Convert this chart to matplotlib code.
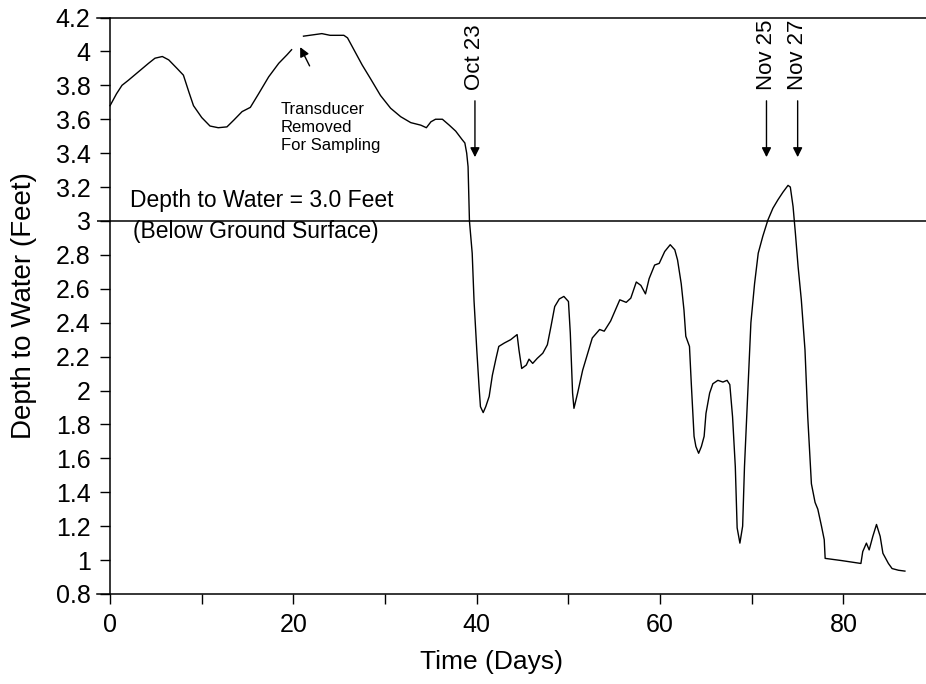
import numpy as np
import matplotlib.pyplot as plt

plt.rcParams['font.family'] = ['Liberation Sans', 'DejaVu Sans']

# Water level record (gap = transducer removed)
days = [0.0, 0.7, 1.3, 2.0, 3.1, 4.2, 4.9, 5.7, 6.4, 7.3, 8.0, 8.6, 9.1, 10.0,
        10.9, 11.8, 12.75, 13.5, 14.4, 15.3, 16.2, 17.3, 18.4, 19.3, 19.8,
        20.4,
        21.1, 22.4, 23.1, 24.0, 25.5, 25.9, 26.6, 27.5, 28.4, 29.5, 30.6, 31.7,
        32.8, 33.9, 34.5, 35.0, 35.5, 36.25, 37.0, 37.7, 38.4, 38.7, 38.9, 39.05,
        39.2, 39.5, 39.7, 40.0, 40.25, 40.4, 40.7, 40.98, 41.35, 41.7, 42.1,
        42.4, 43.0, 43.7, 44.4, 44.6, 44.9, 45.4, 45.7, 46.1, 46.6, 47.2, 47.7,
        48.1, 48.5, 49.0, 49.5, 50.0, 50.2, 50.45, 50.6, 51.0, 51.55, 52.1,
        52.6, 53.4, 53.9, 54.6, 55.2, 55.6, 56.3, 56.8, 57.4, 57.9, 58.4, 58.8,
        59.4, 59.9, 60.5, 61.1, 61.6, 61.9, 62.3, 62.6, 62.8, 63.2, 63.4, 63.7,
        63.9, 64.2, 64.5, 64.8, 65.0, 65.4, 65.75, 66.3, 66.85, 67.3, 67.6,
        67.9, 68.2, 68.4, 68.7, 69.0, 69.2, 69.6, 69.9, 70.3, 70.7, 71.2, 71.75,
        72.3, 72.85, 73.4, 73.95, 74.2, 74.5, 74.75, 75.05, 75.4, 75.8, 76.1,
        76.5, 76.9, 77.2, 77.6, 77.9, 78.0, 79.8, 81.9, 82.1, 82.5, 82.8, 83.2,
        83.6, 84.0, 84.3, 84.9, 85.3, 86.0, 86.7]
depth = [3.68, 3.75, 3.80, 3.83, 3.88, 3.93, 3.96, 3.97, 3.95, 3.90, 3.86, 3.76,
         3.68, 3.61, 3.56, 3.55, 3.555, 3.595, 3.645, 3.67, 3.75, 3.85, 3.93,
         3.98, 4.01,
         np.nan,
         4.09, 4.10, 4.105, 4.095, 4.095, 4.08, 4.01, 3.92, 3.84, 3.74, 3.665,
         3.615, 3.58, 3.565, 3.55, 3.585, 3.60, 3.60, 3.565, 3.53, 3.48, 3.46,
         3.40, 3.32, 3.0, 2.81, 2.53, 2.24, 2.02, 1.905, 1.87, 1.905, 1.965,
         2.09, 2.19, 2.26, 2.28, 2.30, 2.33, 2.24, 2.13, 2.15, 2.185, 2.16,
         2.19, 2.22, 2.27, 2.38, 2.495, 2.54, 2.555, 2.525, 2.34, 1.985, 1.895,
         1.985, 2.12, 2.22, 2.31, 2.36, 2.35, 2.41, 2.485, 2.535, 2.52, 2.545,
         2.64, 2.62, 2.57, 2.66, 2.74, 2.75, 2.82, 2.86, 2.83, 2.77, 2.63,
         2.475, 2.32, 2.26, 2.04, 1.73, 1.67, 1.63, 1.67, 1.73, 1.865, 1.985,
         2.04, 2.06, 2.05, 2.06, 2.035, 1.845, 1.55, 1.19, 1.10, 1.20, 1.55,
         2.04, 2.40, 2.63, 2.81, 2.91, 3.005, 3.075, 3.125, 3.17, 3.21, 3.20,
         3.085, 2.93, 2.73, 2.535, 2.24, 1.845, 1.45, 1.34, 1.30, 1.20, 1.12,
         1.01, 0.997, 0.98, 1.05, 1.10, 1.06, 1.14, 1.21, 1.14, 1.04, 0.98,
         0.95, 0.94, 0.935]

events = ['Oct 23', 'Nov 25', 'Nov 27']
event_days = [39.8, 71.6, 75.0]
threshold = 3.0

fig = plt.figure(figsize=(9.26, 6.84), dpi=100)
ax = fig.add_axes([0.1048, 0.1316, 0.8952, 0.8428])

ax.plot(days, depth, color='black', lw=1.0)
ax.axhline(threshold, color='black', lw=1.1)

ax.set_xlim(-1.42, 89.0)
ax.set_ylim(0.8, 4.2)

ax.spines['left'].set_position(('data', 0))
ax.spines['right'].set_visible(False)
for s in ['left', 'top', 'bottom']:
    ax.spines[s].set_linewidth(1.1)

ax.set_yticks(np.arange(0.8, 4.21, 0.2))
ax.set_yticklabels(['%g' % round(v, 1) for v in np.arange(0.8, 4.21, 0.2)])
ax.set_xticks([0, 20, 40, 60, 80])
ax.set_xticks([10, 30, 50, 70], minor=True)
ax.tick_params(axis='both', which='both', direction='out', length=7, width=1,
               labelsize=18, pad=7)

ax.set_xlabel('Time (Days)', fontsize=19)
ax.xaxis.set_label_coords(0.476, -0.098)
ax.set_ylabel('Depth to Water (Feet)', fontsize=20)
ax.yaxis.set_label_coords(-0.072, 0.5)

ax.text(2.2, 3.12, 'Depth to Water = 3.0 Feet', fontsize=16.5, va='center')
ax.text(2.5, 2.94, '(Below Ground Surface)', fontsize=16.5, va='center')

ax.text(18.6, 3.55, 'Transducer\nRemoved\nFor Sampling', fontsize=12,
        va='center', linespacing=1.25)
ax.annotate('', xy=(20.6, 4.04), xytext=(21.9, 3.90),
            arrowprops=dict(arrowstyle='-|>', color='black', lw=1,
                            mutation_scale=14))

for name, d in zip(events, event_days):
    ax.text(d, 3.77, name, rotation=90, fontsize=16, ha='center', va='bottom')
    ax.annotate('', xy=(d, 3.36), xytext=(d, 3.725),
                arrowprops=dict(arrowstyle='-|>', color='black', lw=1,
                                mutation_scale=14))

fig.savefig('out.png', dpi=100)
